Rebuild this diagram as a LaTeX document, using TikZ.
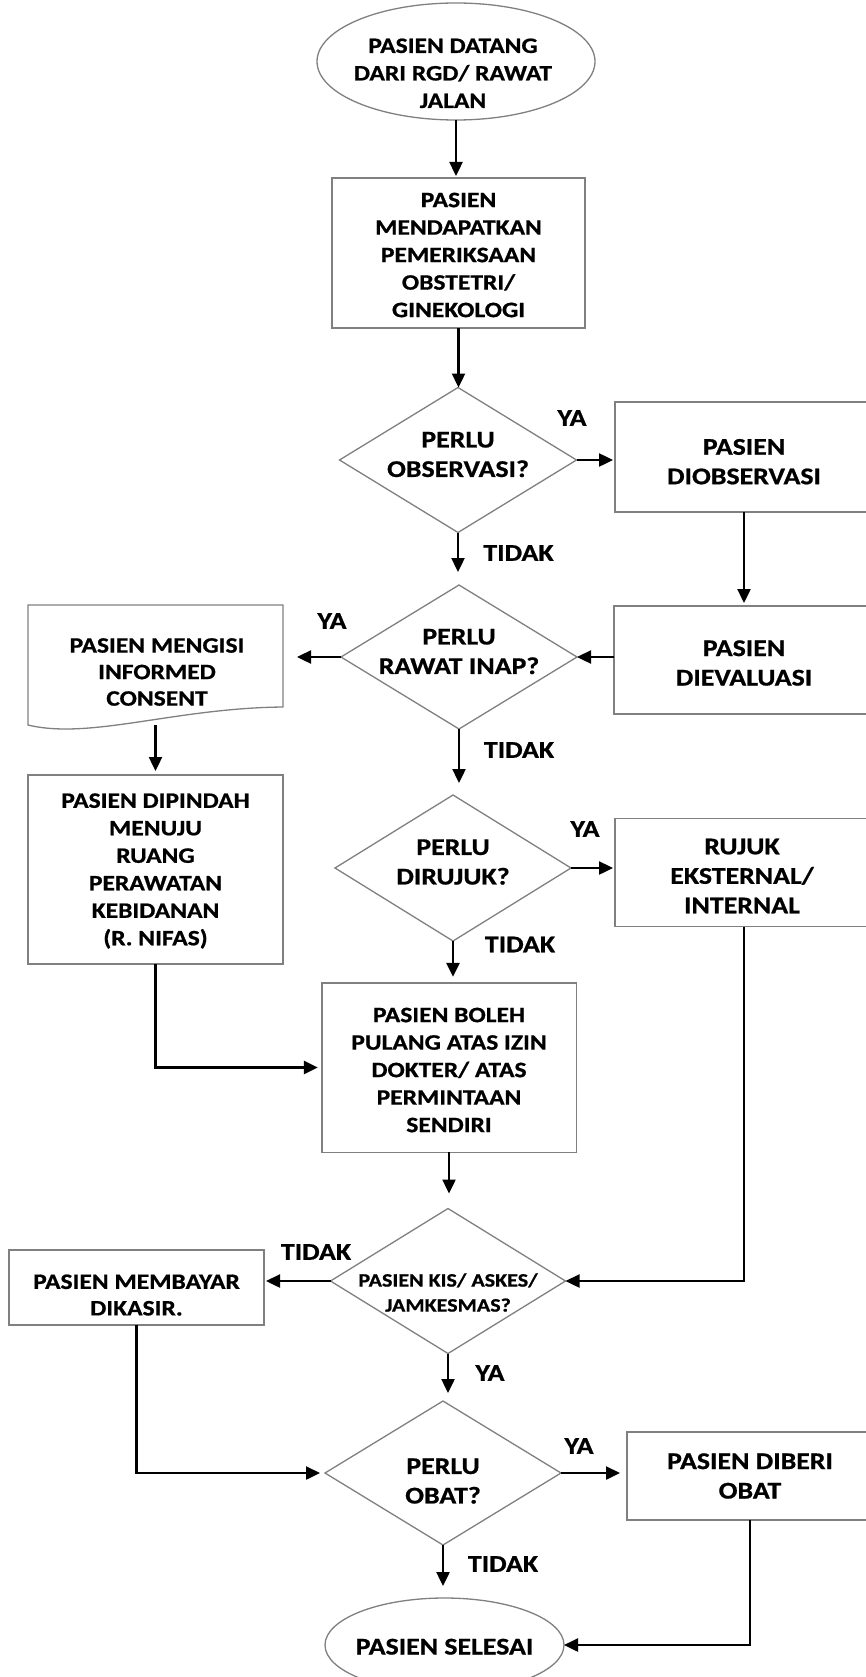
\documentclass[tikz,border=0pt]{standalone}
\usepackage{fontspec}
\setmainfont{Carlito}[FakeStretch=1.16,BoldFeatures={FakeBold=0.8}]
\usetikzlibrary{shapes.geometric,arrows.meta}
\definecolor{shapegray}{RGB}{128,128,128}
\begin{document}
\begin{tikzpicture}[x=1pt,y=-1pt,
  shp/.style={draw=shapegray,line width=1.3pt,inner sep=0pt,outer sep=0pt},
  rbox/.style={shp,rectangle},
  dia/.style={shp,diamond},
  ell/.style={shp,ellipse},
  tn/.style={font=\bfseries\fontsize{22pt}{27.5pt}\selectfont,align=center,inner sep=0pt},
  tb/.style={font=\bfseries\fontsize{24pt}{29.5pt}\selectfont,align=center,inner sep=0pt},
  ts/.style={font=\bfseries\fontsize{19pt}{25pt}\selectfont,align=center,inner sep=0pt},
  arr/.style={line width=2.4pt,-{Triangle[length=14pt,width=13pt]}},
]
\useasboundingbox (0,0) rectangle (866,1677);
\fill[white] (0,0) rectangle (866,1677);

% shapes
\node[ell,minimum width=278pt,minimum height=117pt] (start) at (456,61.5) {};
\node[rbox,minimum width=253pt,minimum height=150pt] (box2) at (458.5,253) {};
\node[dia,minimum width=237pt,minimum height=145pt] (d1) at (458,460) {};
\node[rbox,minimum width=258pt,minimum height=110pt] (obs) at (744,457) {};
\node[dia,minimum width=236pt,minimum height=144pt] (d2) at (459,657) {};
\node[rbox,minimum width=260pt,minimum height=108pt] (eval) at (744,660) {};
\node[minimum width=255pt,minimum height=120pt,inner sep=0pt,outer sep=0pt] (doc) at (155.5,665) {};
\draw[shapegray,line width=1.3pt] (28,605) -- (283,605) -- (283,707)
   .. controls (175,708) and (90,740) .. (28,725) -- cycle;
\node[rbox,minimum width=255pt,minimum height=189pt] (box3) at (155.5,869.5) {};
\node[dia,minimum width=236pt,minimum height=146pt] (d3) at (453,868) {};
\node[rbox,minimum width=258pt,minimum height=108.6pt] (rujuk) at (744,872.5) {};
\node[rbox,minimum width=254.3pt,minimum height=169.3pt] (box4) at (449,1067.5) {};
\node[dia,minimum width=235pt,minimum height=145pt] (d5) at (448,1281) {};
\node[rbox,minimum width=255pt,minimum height=75pt] (bayar) at (136.5,1287.5) {};
\node[dia,minimum width=236pt,minimum height=144pt] (d6) at (443,1473) {};
\node[rbox,minimum width=246pt,minimum height=88pt] (obat) at (750,1476) {};
\node[ell,minimum width=239pt,minimum height=94pt] (end) at (444.5,1645) {};

% texts
\node[tn] (tstart) at ([xshift=-3pt,yshift=-11.8pt]start.center) {PASIEN DATANG\\DARI RGD/ RAWAT\\JALAN};
\node[tn] (tbox2) at ([yshift=-2pt]box2.center) {PASIEN\\MENDAPATKAN\\PEMERIKSAAN\\OBSTETRI/\\GINEKOLOGI};
\node[tb] (td1) at ([yshift=5.5pt]d1.center) {PERLU\\OBSERVASI?};
\node[tb] (tobs) at ([yshift=-4.7pt]obs.center) {PASIEN\\DIOBSERVASI};
\node[tb] (td2) at ([yshift=5.5pt]d2.center) {PERLU\\RAWAT INAP?};
\node[tb] (teval) at ([yshift=-3pt]eval.center) {PASIEN\\DIEVALUASI};
\node[tn,font=\bfseries\fontsize{22pt}{26.5pt}\selectfont] (tdoc) at (157,672) {PASIEN MENGISI\\INFORMED\\CONSENT};
\node[tn] (tbox3) at ([yshift=-1.5pt]box3.center) {PASIEN DIPINDAH\\MENUJU\\RUANG\\PERAWATAN\\KEBIDANAN\\(R. NIFAS)};
\node[tb] (td3) at ([yshift=6pt]d3.center) {PERLU\\DIRUJUK?};
\node[tb] (trujuk) at ([xshift=-2pt,yshift=-3.5pt]rujuk.center) {RUJUK\\EKSTERNAL/\\INTERNAL};
\node[tn] (tbox4) at ([yshift=-2.5pt]box4.center) {PASIEN BOLEH\\PULANG ATAS IZIN\\DOKTER/ ATAS\\PERMINTAAN\\SENDIRI};
\node[ts] (td5) at ([yshift=-11.5pt]d5.center) {PASIEN KIS/ ASKES/\\JAMKESMAS?};
\node[tn,font=\bfseries\fontsize{22pt}{26.5pt}\selectfont] (tbayar) at ([yshift=-7.5pt]bayar.center) {PASIEN MEMBAYAR\\DIKASIR.};
\node[tb] (td6) at ([yshift=-8pt]d6.center) {PERLU\\OBAT?};
\node[tb] (tobat) at (obat.center) {PASIEN DIBERI\\OBAT};
\node[tb] (tend) at ([yshift=-1.7pt]end.center) {PASIEN SELESAI};

% branch labels
\node[tb] (ya1) at (572,418) {YA};
\node[tb] (tidak1) at (518.5,553) {TIDAK};
\node[tb] (ya2) at (332,621) {YA};
\node[tb] (tidak2) at (519,750) {TIDAK};
\node[tb] (ya3) at (585,829) {YA};
\node[tb] (tidak3) at (520,944.5) {TIDAK};
\node[tb] (tidak5) at (316,1252) {TIDAK};
\node[tb] (ya5) at (490,1373) {YA};
\node[tb] (ya6) at (579,1446) {YA};
\node[tb] (tidak6) at (503,1564) {TIDAK};

% connectors
\draw[arr,shorten >=2pt] (start.south) -- (start.south |- box2.north);
\draw[arr] (box2.south) -- (box2.south |- d1.north);
\draw[arr,shorten >=2pt] (d1.east) -- (d1.east -| obs.west);
\draw[arr,shorten >=13pt] (d1.south) -- (d1.south |- d2.north);
\draw[arr,shorten >=3pt] (obs.south) -- (eval.north);
\draw[arr] (eval.west |- d2.east) -- (d2.east);
\draw[arr,shorten >=14pt] (d2.west) -- (d2.west -| doc.east);
\draw[arr,shorten >=4pt] (doc.south) -- (box3.north);
\draw[arr,shorten >=4pt] (box3.south) |- (box4.west);
\draw[arr,shorten >=12pt] (d2.south) -- (d2.south |- d3.north);
\draw[arr,shorten >=2pt] (d3.east) -- (d3.east -| rujuk.west);
\draw[arr,shorten >=6pt] (d3.south) -- (d3.south |- box4.north);
\draw[arr,shorten >=15pt] (box4.south) -- (box4.south |- d5.north);
\draw[arr] (rujuk.south) |- (d5.east);
\draw[arr,shorten >=2pt] (d5.west) -- (d5.west -| bayar.east);
\draw[arr,shorten >=8pt] (d5.south) -- (d5.south |- d6.north);
\draw[arr,shorten >=5pt] (bayar.south) |- (d6.west);
\draw[arr,shorten >=7pt] (d6.east) -- (d6.east -| obat.west);
\draw[arr,shorten >=12pt] (d6.south) -- (d6.south |- end.north);
\draw[arr] (obat.south) |- (end.east);
\end{tikzpicture}
\end{document}
